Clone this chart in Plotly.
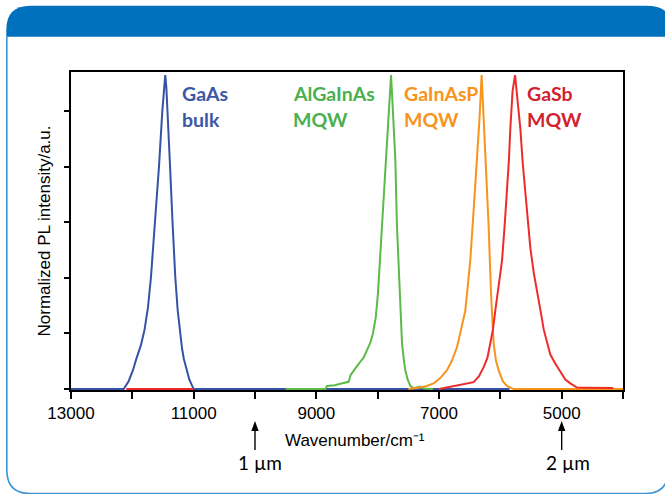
import plotly.graph_objects as go

# ---------------- data ----------------
gaas_wn = [13000, 12500, 12142, 12060, 11990, 11935, 11860, 11800, 11745, 11696, 11625, 11565, 11511, 11480,
           11463, 11445, 11425, 11385, 11345, 11300, 11260, 11225, 11190, 11160, 11110, 11070, 11000, 10500,
           9000, 7000, 5850]
gaas_i = [0, 0, 0, 0.025, 0.06, 0.096, 0.14, 0.19, 0.26, 0.357, 0.532, 0.71, 0.886, 0.96,
          1.0, 0.96, 0.886, 0.71, 0.532, 0.357, 0.25, 0.18, 0.13, 0.096, 0.055, 0.03, 0, 0,
          0, 0, 0]

algainas_wn = [9500, 9000, 8850, 8826, 8700, 8609, 8520, 8474, 8440, 8392, 8340, 8283, 8230, 8174, 8120,
               8076, 8030, 7995, 7929, 7864, 7821, 7782, 7755, 7712, 7685, 7642, 7603, 7575, 7549, 7510,
               7468, 7414, 7350, 7300, 7240, 7100]
algainas_i = [0, 0, 0, 0.01, 0.012, 0.017, 0.02, 0.023, 0.045, 0.06, 0.072, 0.087, 0.1, 0.124, 0.148,
              0.178, 0.23, 0.305, 0.518, 0.73, 0.886, 1.0, 0.9, 0.73, 0.518, 0.305, 0.145, 0.095, 0.06, 0.03,
              0.01, 0.003, 0.005, 0.008, 0.002, 0]

gainasp_wn = [7500, 7414, 7305, 7200, 7088, 6980, 6870, 6790, 6707, 6640, 6571, 6530, 6490, 6435, 6380,
              6340, 6305, 6275, 6245, 6191, 6152, 6109, 6070, 6028, 5960, 5891, 5783, 5000, 4000]
gainasp_i = [0, 0.002, 0.005, 0.01, 0.018, 0.035, 0.06, 0.09, 0.133, 0.19, 0.25, 0.33, 0.41, 0.57, 0.73,
             0.86, 1.0, 0.88, 0.73, 0.52, 0.305, 0.145, 0.09, 0.06, 0.025, 0.01, 0, 0, 0]

gasb_wn = [12100, 11000, None, 7000, 6869, 6750, 6652, 6540, 6435, 6350, 6272, 6210, 6163, 6120, 6082, 6030,
           5972, 5930, 5891, 5860, 5837, 5800, 5760, 5720, 5674, 5635, 5593, 5550, 5511, 5455, 5402, 5345,
           5293, 5240, 5185, 5100, 5022, 4940, 4859, 4800, 4750, 4600, 4450, 4300, 4160]
gasb_i = [0, 0, None, 0, 0.005, 0.008, 0.012, 0.016, 0.022, 0.04, 0.07, 0.1, 0.145, 0.19, 0.25, 0.33,
          0.41, 0.52, 0.62, 0.73, 0.83, 0.95, 1.0, 0.93, 0.83, 0.72, 0.62, 0.53, 0.45, 0.37, 0.305, 0.25,
          0.19, 0.15, 0.11, 0.08, 0.055, 0.03, 0.018, 0.012, 0.005, 0.004, 0.003, 0.003, 0.003]

series_names = ["GaAs bulk", "AlGaInAs MQW", "GaInAsP MQW", "GaSb MQW"]
label_lines = [["GaAs", "bulk"], ["AlGaInAs", "MQW"], ["GaInAsP", "MQW"], ["GaSb", "MQW"]]
curve_colors = ["#3652a4", "#5cba47", "#f7941e", "#ee2b2b"]
label_colors = ["#3b57a6", "#4bb04f", "#f7941e", "#d0232f"]

x_label_vals = [13000, 11000, 9000, 7000, 5000]
x_label_text = ["13000", "11000", "9000", "7000", "5000"]
x_minor_vals = [12000, 10000, 8000, 6000, 4000]
y_tick_step = 0.177
y_tick_vals = [i * y_tick_step for i in range(6)]

x_title = "Wavenumber/cm\u207b\u00b9"
y_title = "Normalized PL intensity/a.u."

marker_wn = [10000, 5000]
marker_text = ["1 µm", "2 µm"]

# ---------------- geometry helpers ----------------
W, H = 665, 494
L, R, T, B = 70.7, 622.7, 72.3, 390.0


def px(x):
    return (x - L) / (R - L)


def py(y):
    return (B - y) / (B - T)


fig = go.Figure()
for wn, inten, name, col in zip([gaas_wn, algainas_wn, gainasp_wn, gasb_wn],
                                [gaas_i, algainas_i, gainasp_i, gasb_i],
                                series_names, curve_colors):
    fig.add_trace(go.Scatter(x=wn, y=inten, mode="lines", name=name,
                             line=dict(color=col, width=2), cliponaxis=False,
                             connectgaps=False, showlegend=False, hoverinfo="skip"))

ann = []
# series labels
label_x = [179.5, 290.5, 401.5, 525.0]
for lines, lx, col in zip(label_lines, label_x, label_colors):
    for k, t in enumerate(lines):
        ann.append(dict(xref="paper", yref="paper", x=px(lx), y=py(93.5 + 26 * k), text=t,
                        showarrow=False, xanchor="left", yanchor="middle",
                        font=dict(family="Lato", size=19.5, color=col, weight="bold")))

# x axis title
ann.append(dict(xref="paper", yref="paper", x=px(355), y=py(440), text=x_title,
                showarrow=False, xanchor="center", yanchor="middle",
                font=dict(family="Liberation Sans", size=17, color="black")))

hx = lambda v: f"{px(v):.5f}"
hy = lambda v: f"{py(v):.5f}"

shapes = []
# wavelength markers: shaft + head drawn as shapes, labels as text
text_x_off = [5, 6]
for wn, t, off in zip(marker_wn, marker_text, text_x_off):
    shapes.append(dict(type="line", xref="x", yref="paper", x0=wn, x1=wn, y0=py(428), y1=py(450),
                       line=dict(color="black", width=1.4)))
    shapes.append(dict(type="path", xref="x", yref="paper",
                       path=f"M {wn},{hy(421)} L {wn + 60},{hy(431)} L {wn - 60},{hy(431)} Z",
                       fillcolor="black", line=dict(width=0)))
    ann.append(dict(xref="x", yref="paper", x=wn, y=py(462), xshift=off, text=t, showarrow=False,
                    xanchor="center", yanchor="middle",
                    font=dict(family="Lato", size=19, color="black")))

# frame decorations
header = (f"M {hx(6)},{hy(37)} L {hx(6)},{hy(30)} Q {hx(6)},{hy(6)} {hx(30)},{hy(6)} "
          f"L {hx(645)},{hy(6)} Q {hx(668)},{hy(6)} {hx(668)},{hy(20)} L {hx(668)},{hy(37)} Z")
border = (f"M {hx(6.5)},{hy(37)} L {hx(6.5)},{hy(470)} Q {hx(6.5)},{hy(493.5)} {hx(30)},{hy(493.5)} "
          f"L {hx(645)},{hy(493.5)} Q {hx(668)},{hy(493.5)} {hx(668)},{hy(470)} L {hx(668)},{hy(37)}")
shapes += [
    dict(type="path", xref="paper", yref="paper", path=header, fillcolor="#0071bc",
         line=dict(width=0), layer="above"),
    dict(type="path", xref="paper", yref="paper", path=border, line=dict(color="#3d95d5", width=1.6),
         layer="above"),
]

fig.update_layout(
    width=W, height=H,
    margin=dict(l=L, r=W - R, t=T, b=H - B),
    paper_bgcolor="white", plot_bgcolor="white",
    annotations=ann, shapes=shapes,
    xaxis=dict(range=[13000, 4000], tickvals=x_label_vals, ticktext=x_label_text,
               showgrid=False, zeroline=False, showline=True, mirror=True,
               linecolor="black", linewidth=1.5, ticks="outside", ticklen=7, tickwidth=1.5,
               tickcolor="black", layer="below traces",
               minor=dict(tickvals=x_minor_vals, ticks="outside", ticklen=7, tickwidth=1.5,
                          tickcolor="black", showgrid=False),
               tickfont=dict(family="Liberation Sans", size=17, color="black")),
    yaxis=dict(range=[-0.003, 1.01], tickvals=y_tick_vals, showticklabels=False,
               showgrid=False, zeroline=False, showline=True, mirror=True,
               linecolor="black", linewidth=1.5, ticks="outside", ticklen=5, tickwidth=1.5,
               tickcolor="black", layer="below traces",
               title=dict(text=y_title, standoff=9,
                          font=dict(family="Liberation Sans", size=17, color="black"))),
)

fig.write_html("out.html", config={"displayModeBar": False},
               post_script="document.body.style.margin='0px';")
